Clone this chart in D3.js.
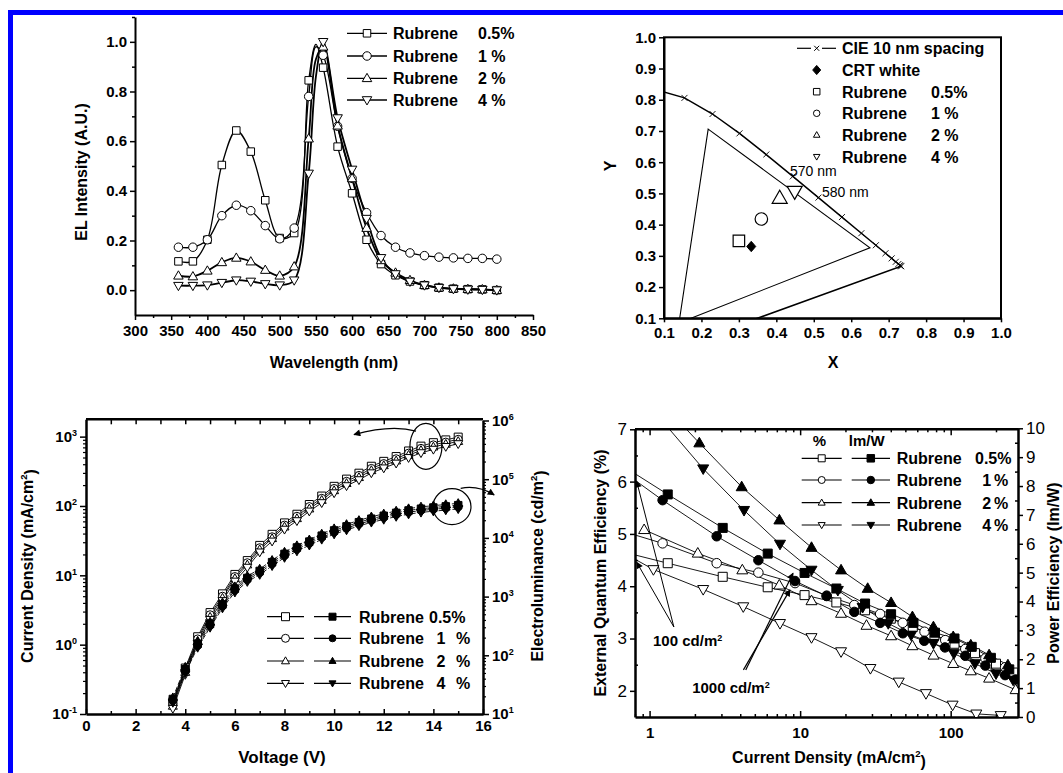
<!DOCTYPE html>
<html>
<head>
<meta charset="utf-8">
<script src="https://cdnjs.cloudflare.com/ajax/libs/d3/7.8.5/d3.min.js"></script>
<style>
  body { margin: 0; background: #fff; }
  svg { display: block; }
</style>
</head>
<body>
<div id="chart"></div>
<script>
// ---------- data: EL spectra (top left) ----------
const wavelength = [360,380,400,420,440,460,480,500,520,540,560,580,600,620,640,660,680,700,720,740,760,780,800];
const elRub05 = [0.116,0.116,0.203,0.504,0.643,0.558,0.362,0.21,0.23,0.845,0.896,0.578,0.39,0.203,0.105,0.06,0.035,0.02,0.01,0.006,0.004,0.003,0.0];
const elRub1  = [0.173,0.173,0.203,0.30,0.342,0.32,0.26,0.207,0.25,0.78,0.946,0.66,0.45,0.312,0.22,0.173,0.15,0.139,0.133,0.13,0.128,0.128,0.125];
const elRub2  = [0.058,0.055,0.078,0.112,0.13,0.115,0.081,0.058,0.095,0.61,0.98,0.662,0.45,0.25,0.12,0.07,0.04,0.02,0.01,0.006,0.004,0.003,0.0];
const elRub4  = [0.018,0.018,0.02,0.03,0.04,0.035,0.025,0.02,0.04,0.47,1.0,0.693,0.486,0.288,0.13,0.065,0.035,0.02,0.01,0.005,0.003,0.002,0.0];
const elAt550 = [0.99,0.98,0.93,0.86]; // line only, no marker

// ---------- data: CIE diagram (top right) ----------
const cieX = [0.0743,0.1547,0.2296,0.3016,0.3731,0.4441,0.5125,0.5752,0.6270,0.6658,0.6915,0.7079,0.7190,0.7260,0.7300,0.7320,0.7334];
const cieY = [0.8338,0.8059,0.7543,0.6923,0.6245,0.5547,0.4866,0.4242,0.3725,0.3340,0.3083,0.2920,0.2809,0.2740,0.2700,0.2680,0.2666];
const cieClose = [0.13, 0.005];
const gamutX = [0.218, 0.65, 0.14];
const gamutY = [0.706, 0.326, 0.085];
const crtWhite = [0.333, 0.33];
const rubCieX = [0.30, 0.36, 0.409, 0.449];
const rubCieY = [0.348, 0.418, 0.485, 0.506];

// ---------- data: J-V-L (bottom left) ----------
const voltage = [3.5,4,4.5,5,5.5,6,6.5,7,7.5,8,8.5,9,9.5,10,10.5,11,11.5,12,12.5,13,13.5,14,14.5,15];
const jRub05 = [0.15,0.46,1.30,2.9,5.4,10.3,16.3,27,39,57,76,105,139,192,244,297,374,440,516,621,729,818,897,984];
const jRub1  = [0.14,0.43,1.21,2.7,5.0,9.6,15.2,25,36,53,71,98,129,179,227,276,348,409,480,578,678,761,834,915];
const jRub2  = [0.13,0.40,1.13,2.5,4.7,9.0,14.2,23.5,34,50,66,91,121,167,212,258,325,383,449,540,634,712,780,856];
const jRub4  = [0.12,0.37,1.04,2.3,4.3,8.2,13.0,21.6,31,46,61,84,111,154,195,238,299,352,413,497,583,654,718,787];
const lRub05 = [18,58,157,344,736,1370,2075,2735,3860,5340,6870,8650,10900,13400,15700,18500,21200,23800,26700,29300,31400,32900,34400,36100];
const lRub1  = [17,54,146,321,687,1280,1935,2550,3600,4980,6410,8070,10160,12500,14700,17250,19800,22200,24900,27300,29300,30700,32100,33600];
const lRub2  = [19,63,170,370,790,1480,2230,2950,4160,5750,7400,9300,11700,14400,17000,19900,22900,25700,28800,31600,33800,35400,37100,38800];
const lRub4  = [15.7,50,136,298,637,1186,1796,2367,3344,4617,5950,7490,9420,11600,13600,16000,18400,20600,23100,25400,27200,28500,29800,31200];

// ---------- data: efficiencies (bottom right) ----------
const eqeJ05 = [0.7,1.32,3.06,6.09,10.7,17.4,27,40,56,78,106,145,200,260];
const eqe05  = [4.64,4.44,4.18,3.98,3.83,3.69,3.54,3.38,3.22,3.07,2.9,2.72,2.52,2.35];
const eqeJ1  = [0.7,1.22,2.79,5.28,9.25,15,22.9,34,48,67,92,125,170,230];
const eqe1   = [5.03,4.82,4.44,4.26,4.06,3.82,3.64,3.47,3.3,3.13,2.97,2.8,2.62,2.45];
const eqeJ2  = [0.92,2.09,4.13,7.27,11.9,18.7,27.6,40.2,55.7,77,104,136,180,270];
const eqe2   = [5.08,4.63,4.31,4.02,3.72,3.48,3.25,3.05,2.86,2.68,2.52,2.38,2.24,2.02];
const eqeJ4  = [0.7,1.06,2.27,4.19,7.35,11.9,18.7,29.3,45.2,68.5,103,148,215];
const eqe4   = [4.61,4.32,3.94,3.61,3.29,3.02,2.75,2.43,2.17,1.95,1.73,1.56,1.53];
const peJ05  = [0.7,1.32,3.06,6.09,10.7,17.4,27,40.2,56.6,78.6,106,138,185,245];
const pe05   = [8.62,7.71,6.55,5.66,4.99,4.45,3.93,3.56,3.26,2.92,2.72,2.43,2.05,1.65];
const peJ1   = [0.7,1.22,2.79,5.28,9.25,15,22.9,34,48.1,66.7,91.6,125,170,230,270];
const pe1    = [8.42,7.51,6.26,5.43,4.71,4.19,3.64,3.26,2.9,2.64,2.41,2.12,1.78,1.45,1.3];
const peJ2   = [1.35,2.14,4.09,7.28,11.9,18.7,28.1,40.2,55.7,76.8,104,136,180,240];
const pe2    = [10.6,9.49,7.97,6.82,5.87,5.09,4.45,3.96,3.47,3.12,2.78,2.49,2.15,1.8];
const peJ4   = [1.15,2.27,4.24,7.35,11.9,17.8,26,38.5,54.6,76.8,105,145,200,260];
const pe4    = [10.4,8.6,7.16,5.99,5.09,4.39,3.8,3.24,2.84,2.55,2.2,1.85,1.5,1.28];

const dopants = ["0.5%", "1 %", "2 %", "4 %"];
const symbols = ["square", "circle", "up", "down"];

const FONT = "'Liberation Sans', Arial, Helvetica, sans-serif";
const W = 1063, H = 773;

const svg = d3.select("#chart").append("svg")
  .attr("width", W).attr("height", H)
  .attr("font-family", FONT);
svg.append("rect").attr("width", W).attr("height", H).attr("fill", "#fff");
svg.append("rect").attr("x", 10.5).attr("y", 12.5)
  .attr("width", W + 20).attr("height", H + 20)
  .attr("fill", "none").attr("stroke", "#0000ff").attr("stroke-width", 5);

const defs = svg.append("defs");
defs.append("marker").attr("id", "ah")
  .attr("viewBox", "0 0 10 10").attr("refX", 9).attr("refY", 5)
  .attr("markerWidth", 9).attr("markerHeight", 7)
  .attr("markerUnits", "userSpaceOnUse").attr("orient", "auto")
  .append("path").attr("d", "M0,0L10,5L0,10Z").attr("fill", "#000");

function clip(id, x, y, w, h) {
  defs.append("clipPath").attr("id", id)
    .append("rect").attr("x", x).attr("y", y).attr("width", w).attr("height", h);
  return "url(#" + id + ")";
}

// marker shapes, s = full width
function shape(type, s) {
  const h = s / 2, t = s * 0.87;
  switch (type) {
    case "square": return `M${-h},${-h}H${h}V${h}H${-h}Z`;
    case "circle": return `M${h},0A${h},${h} 0 1,1 ${-h},0A${h},${h} 0 1,1 ${h},0Z`;
    case "up": return `M0,${-t * 0.6}L${h},${t * 0.4}L${-h},${t * 0.4}Z`;
    case "down": return `M0,${t * 0.6}L${h},${-t * 0.4}L${-h},${-t * 0.4}Z`;
    case "diamond": return `M0,${-h * 1.15}L${h},0L0,${h * 1.15}L${-h},0Z`;
    case "cross": return `M${-h},${-h}L${h},${h}M${-h},${h}L${h},${-h}`;
  }
}
function marks(g, pts, type, s, filled, sw) {
  g.append("g").selectAll("path").data(pts).join("path")
    .attr("d", shape(type, s))
    .attr("transform", d => `translate(${d[0]},${d[1]})`)
    .attr("fill", type === "cross" ? "none" : (filled ? "#000" : "#fff"))
    .attr("stroke", "#000").attr("stroke-width", sw || 1);
}

function axis(g, gen, tr, opt) {
  opt = opt || {};
  const a = g.append("g").attr("transform", tr).call(gen);
  a.attr("font-family", FONT).attr("font-size", opt.fs || 15)
   .attr("font-weight", opt.fw || "bold");
  if (opt.minor) a.select(".domain").remove();
  else a.select(".domain").attr("stroke", "#000").attr("stroke-width", opt.dw || 2);
  a.selectAll(".tick line").attr("stroke", "#000").attr("stroke-width", opt.tw || 1.5);
  a.selectAll(".tick text").attr("fill", "#000");
  return a;
}
function supLabels(a) {
  a.selectAll(".tick text").each(function(d) {
    const t = d3.select(this);
    const e = Math.round(Math.log10(d));
    t.text("10");
    t.append("tspan").attr("dy", "-0.65em").attr("font-size", "0.6em").text(e);
  });
}
function vlabel(g, x, y, txt, fs, sup) {
  const t = g.append("text")
    .attr("transform", `translate(${x},${y}) rotate(-90)`)
    .attr("text-anchor", "middle").attr("dy", "0.35em")
    .attr("font-size", fs || 16).attr("font-weight", "bold").text(txt);
  if (sup) {
    t.append("tspan").attr("dy", "-0.6em").attr("font-size", "0.6em").text(sup);
    t.append("tspan").attr("dy", "0.6em").text(")");
  }
  return t;
}
function hlabel(g, x, y, txt, fs, sup, weight) {
  const t = g.append("text").attr("x", x).attr("y", y)
    .attr("text-anchor", "middle").attr("font-size", fs || 16)
    .attr("font-weight", weight || "bold").text(txt);
  if (sup) {
    t.append("tspan").attr("dy", "-0.6em").attr("font-size", "0.6em").text(sup);
    t.append("tspan").attr("dy", "0.6em").text(")");
  }
  return t;
}

// =============== panel A : EL spectra ===============
const gA = svg.append("g");
const xA = d3.scaleLinear().domain([300, 850]).range([135, 533]);
const yA = d3.scaleLinear().domain([-0.1, 1.1]).range([315, 17]);

axis(gA, d3.axisBottom(xA).tickValues(d3.range(300, 851, 50)).tickSize(5).tickSizeOuter(0).tickPadding(5), "translate(0,315)");
axis(gA, d3.axisBottom(xA).tickValues(d3.range(325, 850, 50)).tickSize(3).tickFormat(""), "translate(0,315)", {minor: true});
axis(gA, d3.axisLeft(yA).tickValues([0, 0.2, 0.4, 0.6, 0.8, 1.0]).tickFormat(d3.format(".1f")).tickSize(5).tickSizeOuter(0), "translate(135,0)");
axis(gA, d3.axisLeft(yA).tickValues([0.1, 0.3, 0.5, 0.7, 0.9, 1.1]).tickSize(3).tickFormat(""), "translate(135,0)", {minor: true});

vlabel(gA, 81, 172, "EL Intensity (A.U.)");
hlabel(gA, 334, 368, "Wavelength (nm)");

const elLine = d3.line().x(d => xA(d[0])).y(d => yA(d[1])).curve(d3.curveCatmullRom.alpha(0.5));
[elRub05, elRub1, elRub2, elRub4].forEach((vals, i) => {
  const pts = wavelength.map((w, k) => [w, vals[k]]);
  pts.push([550, elAt550[i]]);
  pts.sort((a, b) => a[0] - b[0]);
  gA.append("path").datum(pts).attr("d", elLine)
    .attr("fill", "none").attr("stroke", "#000").attr("stroke-width", i >= 2 ? 1.8 : 1.3);
});
[elRub05, elRub1, elRub2, elRub4].forEach((vals, i) => {
  marks(gA, wavelength.map((w, k) => [xA(w), yA(vals[k])]), symbols[i], i === 1 ? 8.5 : (i >= 2 ? 9.5 : 7.5), false, 1);
});

// legend A
const legA = gA.append("g").attr("font-size", 16).attr("font-weight", "bold");
[33.3, 56, 78.3, 100].forEach((y, i) => {
  legA.append("line").attr("x1", 347).attr("x2", 387).attr("y1", y).attr("y2", y)
    .attr("stroke", "#000").attr("stroke-width", 1.3);
  marks(legA, [[367, y]], symbols[i], i === 1 ? 8.5 : (i >= 2 ? 9.5 : 7.5), false, 1);
  legA.append("text").attr("x", 393).attr("y", y + 6).text("Rubrene");
  legA.append("text").attr("x", 478).attr("y", y + 6).text(dopants[i].replace(" ", "\u00a0"));
});

// =============== panel B : CIE ===============
const gB = svg.append("g");
const xB = d3.scaleLinear().domain([0.1, 1.0]).range([664, 1001]);
const yB = d3.scaleLinear().domain([0.1, 1.0]).range([318.3, 37.3]);
const tenths = d3.range(1, 11).map(i => i / 10);

axis(gB, d3.axisBottom(xB).tickValues(tenths).tickFormat(d3.format(".1f")).tickSize(4).tickSizeOuter(0).tickPadding(5), "translate(0,318.3)");
axis(gB, d3.axisLeft(yB).tickValues(tenths).tickFormat(d3.format(".1f")).tickSize(5).tickSizeOuter(0), "translate(664,0)");
gB.append("rect").attr("x", 664).attr("y", 37.3).attr("width", 337).attr("height", 281)
  .attr("fill", "none").attr("stroke", "#000").attr("stroke-width", 2);

vlabel(gB, 610, 166, "Y");
hlabel(gB, 833, 368, "X");

const clipB = clip("clipB", 664, 37.3, 337, 281);
const gBp = gB.append("g").attr("clip-path", clipB);
const locus = cieX.map((x, i) => [x, cieY[i]]).concat([cieClose]);
gBp.append("path").datum(locus)
  .attr("d", d3.line().x(d => xB(d[0])).y(d => yB(d[1])))
  .attr("fill", "none").attr("stroke", "#000").attr("stroke-width", 1.5);
marks(gBp, cieX.slice(1).map((x, i) => [xB(x), yB(cieY[i + 1])]), "cross", 6, false, 0.9);
gBp.append("path").datum(gamutX.map((x, i) => [x, gamutY[i]]))
  .attr("d", d3.line().x(d => xB(d[0])).y(d => yB(d[1])).curve(d3.curveLinearClosed))
  .attr("fill", "none").attr("stroke", "#000").attr("stroke-width", 1.1);

marks(gB, [[xB(crtWhite[0]), yB(crtWhite[1])]], "diamond", 9, true, 1);
const bigSize = [11.5, 12.5, 15, 15];
rubCieX.forEach((x, i) => marks(gB, [[xB(x), yB(rubCieY[i])]], symbols[i], bigSize[i], false, 1.2));

gB.append("text").attr("x", 790).attr("y", 176).attr("font-size", 14).text("570 nm");
gB.append("text").attr("x", 822).attr("y", 197).attr("font-size", 14).text("580 nm");

const legB = gB.append("g").attr("font-size", 16).attr("font-weight", "bold");
const legBy = [48.3, 70, 91.7, 113.3, 135, 156.7];
legB.append("line").attr("x1", 797).attr("x2", 811).attr("y1", legBy[0]).attr("y2", legBy[0]).attr("stroke", "#000").attr("stroke-width", 1.2);
legB.append("line").attr("x1", 822).attr("x2", 836).attr("y1", legBy[0]).attr("y2", legBy[0]).attr("stroke", "#000").attr("stroke-width", 1.2);
marks(legB, [[816.7, legBy[0]]], "cross", 5, false, 1);
legB.append("text").attr("x", 842).attr("y", legBy[0] + 6).text("CIE 10 nm spacing");
marks(legB, [[816.7, legBy[1]]], "diamond", 8, true, 1);
legB.append("text").attr("x", 842).attr("y", legBy[1] + 6).text("CRT white");
symbols.forEach((s, i) => {
  marks(legB, [[816.7, legBy[i + 2]]], s, 6.5, false, 1);
  legB.append("text").attr("x", 842).attr("y", legBy[i + 2] + 6).text("Rubrene");
  legB.append("text").attr("x", 931).attr("y", legBy[i + 2] + 6).text(dopants[i].replace(" ", "\u00a0"));
});

// =============== panel C : J-V-L ===============
const gC = svg.append("g");
const xC = d3.scaleLinear().domain([0, 16]).range([86, 483]);
const yCL = d3.scaleLog().domain([0.1, 1778]).range([714, 419.3]);
const yCR = d3.scaleLog().domain([10, 1e6]).range([714, 420.5]);

function logMinor(lo, hi) {
  const out = [];
  for (let e = lo; e < hi; e++) for (let k = 2; k <= 9; k++) out.push(k * Math.pow(10, e));
  return out;
}
axis(gC, d3.axisBottom(xC).tickValues(d3.range(0, 17, 2)).tickSize(-5).tickSizeOuter(0).tickPadding(6), "translate(0,714)", {dw: 2.5});
axis(gC, d3.axisBottom(xC).tickValues(d3.range(1, 16, 2)).tickSize(-3).tickFormat(""), "translate(0,714)", {minor: true});
axis(gC, d3.axisTop(xC).tickValues(d3.range(1, 16)).tickSize(-5).tickFormat(""), "translate(0,419.3)", {minor: true});
const aCL = axis(gC, d3.axisLeft(yCL).tickValues([0.1, 1, 10, 100, 1000]).tickSize(6).tickSizeOuter(0), "translate(86,0)", {dw: 2.5});
supLabels(aCL);
axis(gC, d3.axisLeft(yCL).tickValues(logMinor(-1, 3)).tickSize(3).tickFormat(""), "translate(86,0)", {minor: true, tw: 1.2});
const aCR = axis(gC, d3.axisRight(yCR).tickValues([10, 100, 1e3, 1e4, 1e5, 1e6]).tickSize(6).tickSizeOuter(0), "translate(483,0)", {dw: 2.5});
supLabels(aCR);
axis(gC, d3.axisRight(yCR).tickValues(logMinor(1, 6)).tickSize(3).tickFormat(""), "translate(483,0)", {minor: true, tw: 1.2});
gC.append("line").attr("x1", 86).attr("x2", 483).attr("y1", 419.3).attr("y2", 419.3)
  .attr("stroke", "#000").attr("stroke-width", 2.5);

vlabel(gC, 27, 566, "Current Density (mA/cm", 16, "2");
vlabel(gC, 537, 566, "Electroluminance (cd/m", 16, "2");
hlabel(gC, 282, 763, "Voltage (V)", 17);

const clipC = clip("clipC", 86, 419.3, 397, 294.7);
const gCp = gC.append("g").attr("clip-path", clipC);
const lineC = d3.line();
const jSets = [jRub05, jRub1, jRub2, jRub4];
const lSets = [lRub05, lRub1, lRub2, lRub4];
jSets.forEach(vals => gCp.append("path").datum(voltage.map((v, k) => [xC(v), yCL(vals[k])]))
  .attr("d", lineC).attr("fill", "none").attr("stroke", "#000").attr("stroke-width", 0.9));
lSets.forEach(vals => gCp.append("path").datum(voltage.map((v, k) => [xC(v), yCR(vals[k])]))
  .attr("d", lineC).attr("fill", "none").attr("stroke", "#000").attr("stroke-width", 0.9)
  .attr("stroke-dasharray", "5,2"));
jSets.forEach((vals, i) => marks(gC, voltage.map((v, k) => [xC(v), yCL(vals[k])]), symbols[i], i >= 2 ? 9 : 8, false, 1));
lSets.forEach((vals, i) => marks(gC, voltage.map((v, k) => [xC(v), yCR(vals[k])]), symbols[i], i >= 2 ? 9 : 7.5, true, 1));

// circled groups and arrows
gC.append("ellipse").attr("cx", xC(13.7)).attr("cy", yCL(725)).attr("rx", 16).attr("ry", 23)
  .attr("fill", "none").attr("stroke", "#000").attr("stroke-width", 1.2);
gC.append("ellipse").attr("cx", xC(14.75)).attr("cy", yCR(34000)).attr("rx", 19).attr("ry", 18)
  .attr("fill", "none").attr("stroke", "#000").attr("stroke-width", 1.2);
gC.append("path")
  .attr("d", `M${xC(13.3)},${yCL(1200)} Q${xC(12.3)},${yCL(1500)} ${xC(10.8)},${yCL(1070)}`)
  .attr("fill", "none").attr("stroke", "#000").attr("stroke-width", 1.2).attr("marker-end", "url(#ah)");
gC.append("path")
  .attr("d", `M${xC(15.1)},${yCR(70000)} Q${xC(15.8)},${yCR(80000)} ${xC(16.45)},${yCR(54000)}`)
  .attr("fill", "none").attr("stroke", "#000").attr("stroke-width", 1.2).attr("marker-end", "url(#ah)");

// legend C
const legC = gC.append("g").attr("font-size", 16).attr("font-weight", "bold");
[616.7, 638.3, 661, 683.3].forEach((y, i) => {
  legC.append("line").attr("x1", 267).attr("x2", 304).attr("y1", y).attr("y2", y).attr("stroke", "#000").attr("stroke-width", 1.2);
  legC.append("line").attr("x1", 314).attr("x2", 351).attr("y1", y).attr("y2", y).attr("stroke", "#000").attr("stroke-width", 1.2);
  marks(legC, [[285.5, y]], symbols[i], 8, false, 1);
  marks(legC, [[332.5, y]], symbols[i], 7, true, 1);
  legC.append("text").attr("x", 359).attr("y", y + 6).text("Rubrene");
  if (i === 0) legC.append("text").attr("x", 429).attr("y", y + 6).text("0.5%");
  else {
    legC.append("text").attr("x", 441).attr("y", y + 6).attr("text-anchor", "middle").text(dopants[i][0]);
    legC.append("text").attr("x", 456).attr("y", y + 6).text("%");
  }
});

// =============== panel D : efficiencies ===============
const gD = svg.append("g");
const xD = d3.scaleLog().domain([0.8, 280]).range([635, 1018]);
const yDL = d3.scaleLinear().domain([1.5, 7]).range([717, 429.3]);
const yDR = d3.scaleLinear().domain([0, 10]).range([717, 428.3]);
const dMinor = [0.8, 0.9, 2, 3, 4, 5, 6, 7, 8, 9, 20, 30, 40, 50, 60, 70, 80, 90, 200];

axis(gD, d3.axisBottom(xD).tickValues([1, 10, 100]).tickFormat(d3.format("d")).tickSize(-6).tickSizeOuter(0).tickPadding(10), "translate(0,717)", {dw: 2.5});
axis(gD, d3.axisBottom(xD).tickValues(dMinor).tickSize(-3).tickFormat(""), "translate(0,717)", {minor: true});
axis(gD, d3.axisTop(xD).tickValues([1, 10, 100]).tickSize(-6).tickFormat(""), "translate(0,429.3)", {minor: true});
axis(gD, d3.axisTop(xD).tickValues(dMinor).tickSize(-3).tickFormat(""), "translate(0,429.3)", {minor: true});
axis(gD, d3.axisLeft(yDL).tickValues([2, 3, 4, 5, 6, 7]).tickFormat(d3.format("d")).tickSize(5).tickSizeOuter(0), "translate(635,0)", {dw: 2.5, fs: 17, fw: "normal"});
axis(gD, d3.axisLeft(yDL).tickValues([2.5, 3.5, 4.5, 5.5, 6.5]).tickSize(-3).tickFormat(""), "translate(635,0)", {minor: true});
axis(gD, d3.axisRight(yDR).tickValues(d3.range(0, 11)).tickFormat(d3.format("d")).tickSize(5).tickSizeOuter(0), "translate(1018,0)", {dw: 2.5, fs: 17, fw: "normal"});
axis(gD, d3.axisRight(yDR).tickValues(d3.range(0.5, 10, 1)).tickSize(-3).tickFormat(""), "translate(1018,0)", {minor: true});
gD.append("line").attr("x1", 635).attr("x2", 1018).attr("y1", 429.3).attr("y2", 429.3)
  .attr("stroke", "#000").attr("stroke-width", 2.5);

vlabel(gD, 600, 573, "External Quantum Efficiency (%)", 16);
vlabel(gD, 1053, 573, "Power Efficiency (lm/W)", 16);
hlabel(gD, 829, 763, "Current Density (mA/cm", 16, "2");

const clipD = clip("clipD", 635, 429.3, 383, 287.7);
const gDp = gD.append("g").attr("clip-path", clipD);
const eqeSets = [[eqeJ05, eqe05], [eqeJ1, eqe1], [eqeJ2, eqe2], [eqeJ4, eqe4]];
const peSets = [[peJ05, pe05], [peJ1, pe1], [peJ2, pe2], [peJ4, pe4]];
const lineD = d3.line();
eqeSets.forEach(([js, vs]) => gDp.append("path").datum(js.map((j, k) => [xD(j), yDL(vs[k])]))
  .attr("d", lineD).attr("fill", "none").attr("stroke", "#000").attr("stroke-width", 0.9));
peSets.forEach(([js, vs]) => gDp.append("path").datum(js.map((j, k) => [xD(j), yDR(vs[k])]))
  .attr("d", lineD).attr("fill", "none").attr("stroke", "#000").attr("stroke-width", 0.9));
const dSize = [9, 9.5, 11, 11];
eqeSets.forEach(([js, vs], i) => marks(gDp, js.map((j, k) => [xD(j), yDL(vs[k])]), symbols[i], dSize[i], false, 1));
peSets.forEach(([js, vs], i) => marks(gDp, js.map((j, k) => [xD(j), yDR(vs[k])]), symbols[i], dSize[i], true, 1));

// annotations
const ann = gD.append("g");
[[0.82, 6.01], [0.82, 4.46]].forEach(p => {
  ann.append("line").attr("x1", xD(1.45)).attr("y1", yDL(3.22)).attr("x2", xD(p[0])).attr("y2", yDL(p[1]))
    .attr("stroke", "#000").attr("stroke-width", 1).attr("marker-end", "url(#ah)");
});
[[8.56, 3.93], [8.97, 4.25]].forEach((p, i) => {
  ann.append("line").attr("x1", xD(i ? 4.35 : 4.2)).attr("y1", yDL(2.4)).attr("x2", xD(p[0])).attr("y2", yDL(p[1]))
    .attr("stroke", "#000").attr("stroke-width", 1.2).attr("marker-end", "url(#ah)");
});
hlabel(ann, xD(1.79), 646, "100 cd/m", 15).append("tspan").attr("dy", "-0.6em").attr("font-size", "0.6em").text("2");
hlabel(ann, xD(3.47), 693, "1000 cd/m", 15).append("tspan").attr("dy", "-0.6em").attr("font-size", "0.6em").text("2");

// legend D
const legD = gD.append("g").attr("font-size", 16).attr("font-weight", "bold");
legD.append("text").attr("x", 819.3).attr("y", 446).attr("text-anchor", "middle").attr("font-size", 15).text("%");
legD.append("text").attr("x", 866.7).attr("y", 446).attr("text-anchor", "middle").attr("font-size", 15).text("lm/W");
[458.3, 480, 502.7, 525].forEach((y, i) => {
  legD.append("line").attr("x1", 801.7).attr("x2", 841.7).attr("y1", y).attr("y2", y).attr("stroke", "#000").attr("stroke-width", 1.2);
  legD.append("line").attr("x1", 851.7).attr("x2", 890).attr("y1", y).attr("y2", y).attr("stroke", "#000").attr("stroke-width", 1.2);
  marks(legD, [[821.7, y]], symbols[i], 7, false, 1);
  marks(legD, [[870.8, y]], symbols[i], 7.5, true, 1);
  legD.append("text").attr("x", 896.7).attr("y", y + 6).text("Rubrene");
  if (i === 0) legD.append("text").attr("x", 975).attr("y", y + 6).text("0.5%");
  else {
    legD.append("text").attr("x", 986.7).attr("y", y + 6).attr("text-anchor", "middle").text(dopants[i][0]);
    legD.append("text").attr("x", 994).attr("y", y + 6).text("%");
  }
});
</script>
</body>
</html>
